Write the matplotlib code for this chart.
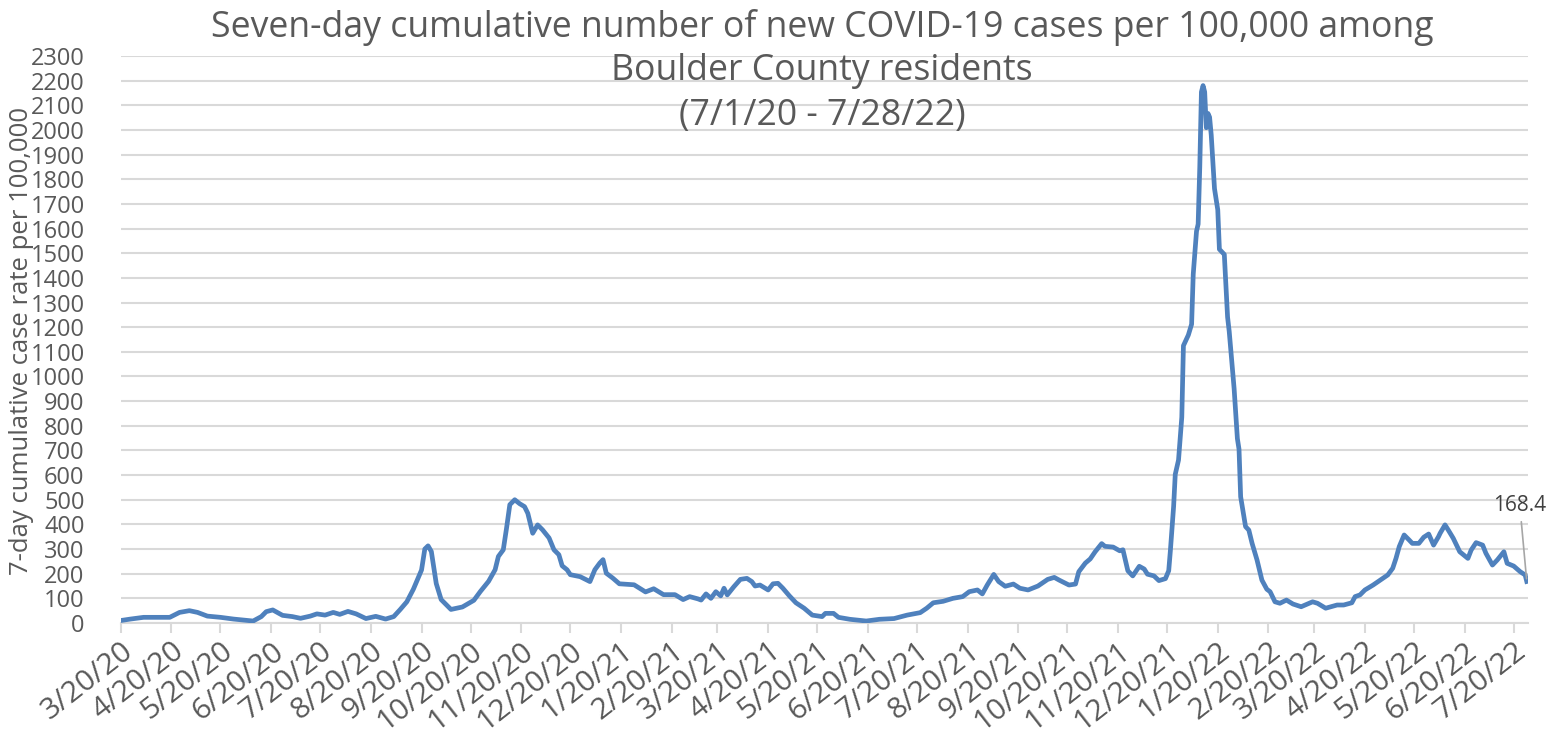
"""
Boulder County 7-day cumulative COVID-19 case rate per 100,000
"""
import matplotlib
matplotlib.use("Agg")
import matplotlib.pyplot as plt
import pandas as pd

# values (irregular sample dates)
dates = [
    "2020-03-20", "2020-03-26", "2020-04-03", "2020-04-11", "2020-04-19", "2020-04-25",
    "2020-05-01", "2020-05-06", "2020-05-12", "2020-05-20", "2020-05-28", "2020-06-03",
    "2020-06-09", "2020-06-14", "2020-06-17", "2020-06-21", "2020-06-24", "2020-06-27",
    "2020-07-03", "2020-07-08", "2020-07-14", "2020-07-18", "2020-07-23", "2020-07-28",
    "2020-08-01", "2020-08-06", "2020-08-11", "2020-08-17", "2020-08-23", "2020-08-29",
    "2020-09-03", "2020-09-07", "2020-09-11", "2020-09-15", "2020-09-20", "2020-09-22",
    "2020-09-24", "2020-09-26", "2020-09-29", "2020-10-02", "2020-10-08", "2020-10-15",
    "2020-10-22", "2020-10-26", "2020-10-31", "2020-11-04", "2020-11-06", "2020-11-09",
    "2020-11-11", "2020-11-13", "2020-11-16", "2020-11-19", "2020-11-22", "2020-11-24",
    "2020-11-27", "2020-11-30", "2020-12-03", "2020-12-07", "2020-12-10", "2020-12-13",
    "2020-12-15", "2020-12-18", "2020-12-20", "2020-12-26", "2021-01-01", "2021-01-04",
    "2021-01-07", "2021-01-09", "2021-01-11", "2021-01-15", "2021-01-19", "2021-01-28",
    "2021-02-04", "2021-02-09", "2021-02-15", "2021-02-22", "2021-02-27", "2021-03-03",
    "2021-03-08", "2021-03-10", "2021-03-13", "2021-03-16", "2021-03-19", "2021-03-22",
    "2021-03-24", "2021-03-26", "2021-03-30", "2021-04-03", "2021-04-07", "2021-04-10",
    "2021-04-12", "2021-04-15", "2021-04-20", "2021-04-23", "2021-04-26", "2021-04-29",
    "2021-05-03", "2021-05-07", "2021-05-12", "2021-05-17", "2021-05-23", "2021-05-25",
    "2021-05-30", "2021-06-02", "2021-06-09", "2021-06-19", "2021-06-27", "2021-07-06",
    "2021-07-14", "2021-07-22", "2021-07-26", "2021-07-30", "2021-08-05", "2021-08-11",
    "2021-08-17", "2021-08-21", "2021-08-26", "2021-08-29", "2021-09-01", "2021-09-05",
    "2021-09-08", "2021-09-12", "2021-09-17", "2021-09-21", "2021-09-26", "2021-10-02",
    "2021-10-08", "2021-10-12", "2021-10-15", "2021-10-21", "2021-10-25", "2021-10-27",
    "2021-10-31", "2021-11-03", "2021-11-06", "2021-11-10", "2021-11-12", "2021-11-17",
    "2021-11-21", "2021-11-23", "2021-11-26", "2021-11-29", "2021-12-03", "2021-12-06",
    "2021-12-08", "2021-12-12", "2021-12-15", "2021-12-19", "2021-12-21", "2021-12-22",
    "2021-12-24", "2021-12-25", "2021-12-27", "2021-12-29", "2021-12-30", "2022-01-01",
    "2022-01-02", "2022-01-04", "2022-01-05", "2022-01-07", "2022-01-08", "2022-01-09",
    "2022-01-10", "2022-01-11", "2022-01-12", "2022-01-13", "2022-01-14", "2022-01-15",
    "2022-01-16", "2022-01-18", "2022-01-20", "2022-01-21", "2022-01-24", "2022-01-26",
    "2022-01-27", "2022-01-30", "2022-02-01", "2022-02-02", "2022-02-03", "2022-02-06",
    "2022-02-08", "2022-02-10", "2022-02-13", "2022-02-16", "2022-02-19", "2022-02-21",
    "2022-02-24", "2022-02-27", "2022-03-03", "2022-03-07", "2022-03-12", "2022-03-19",
    "2022-03-22", "2022-03-27", "2022-04-03", "2022-04-07", "2022-04-12", "2022-04-14",
    "2022-04-17", "2022-04-20", "2022-04-25", "2022-04-30", "2022-05-04", "2022-05-07",
    "2022-05-09", "2022-05-11", "2022-05-14", "2022-05-17", "2022-05-19", "2022-05-23",
    "2022-05-26", "2022-05-29", "2022-06-01", "2022-06-04", "2022-06-05", "2022-06-08",
    "2022-06-10", "2022-06-13", "2022-06-17", "2022-06-22", "2022-06-24", "2022-06-27",
    "2022-07-01", "2022-07-03", "2022-07-07", "2022-07-10", "2022-07-14", "2022-07-16",
    "2022-07-20", "2022-07-24", "2022-07-27", "2022-07-28",
]
rates = [
    10, 16, 23, 23, 23, 43,
    50, 43, 28, 23, 16, 12,
    8, 26, 46, 53, 42, 31,
    26, 19, 28, 37, 32, 43,
    35, 47, 37, 18, 27, 16,
    26, 55, 86, 137, 215, 300,
    313, 290, 160, 95, 55, 65,
    92, 128, 169, 216, 270, 297,
    385, 480, 500, 484, 472, 445,
    364, 398, 378, 345, 297, 277,
    232, 216, 196, 188, 168, 216,
    243, 257, 202, 182, 159, 155,
    126, 139, 115, 115, 95, 107,
    98, 93, 118, 100, 127, 110,
    141, 114, 147, 177, 181, 168,
    150, 154, 134, 159, 161, 141,
    110, 82, 60, 32, 26, 39,
    39, 23, 15, 8, 15, 18,
    32, 42, 60, 82, 88, 100,
    107, 127, 134, 118, 154, 197,
    168, 149, 158, 141, 134, 150,
    177, 185, 174, 154, 158, 208,
    243, 260, 289, 322, 311, 308,
    293, 297, 212, 191, 230, 219,
    198, 191, 172, 180, 212, 292,
    473, 603, 661, 835, 1125, 1154,
    1168, 1212, 1415, 1589, 1618, 1850,
    2154, 2180, 2154, 2009, 2067, 2052,
    1980, 1762, 1676, 1516, 1495, 1241,
    1183, 951, 748, 705, 512, 391,
    377, 323, 256, 174, 137, 127,
    86, 80, 93, 77, 66, 86,
    80, 60, 73, 73, 82, 107,
    114, 134, 154, 177, 195, 222,
    262, 310, 357, 337, 323, 323,
    348, 361, 316, 350, 364, 398,
    377, 344, 289, 262, 296, 326,
    316, 283, 235, 256, 289, 242,
    231, 208, 195, 168.4,
]

tick_dates = pd.date_range("2020-03-01", "2022-07-01", freq="MS") + pd.Timedelta(days=19)
tick_labels = [f"{d.month}/{d.day}/{d.year % 100}" for d in tick_dates]
y_ticks = list(range(0, 2301, 100))

title_lines = ["Seven-day cumulative number of new COVID-19 cases per 100,000 among",
               "Boulder County residents",
               "(7/1/20 - 7/28/22)"]
y_label = "7-day cumulative case rate per 100,000"

TEXT = "#595959"
GRID = "#d9d9d9"
LINE = "#4f81bd"
W, H = 1551, 746

plt.rcParams["font.family"] = ["Open Sans", "DejaVu Sans"]

x = pd.to_datetime(dates)

fig = plt.figure(figsize=(W / 100, H / 100), dpi=100)
ax = fig.add_axes([120.7 / W, 123 / H, (1528 - 120.7) / W, (690 - 123) / H])

ax.plot(x, rates, color=LINE, lw=3.4, solid_joinstyle="round", zorder=3)

ax.set_ylim(0, 2300)
ax.set_xlim(x[0], x[-1] + pd.Timedelta(hours=18))
ax.set_yticks(y_ticks)
ax.set_xticks(tick_dates)
ax.set_xticklabels(tick_labels, rotation=38, ha="right", rotation_mode="anchor")
ax.tick_params(axis="y", length=0, labelsize=17, labelcolor=TEXT, pad=26)
ax.tick_params(axis="x", length=7, width=1.5, color=GRID, labelsize=21.5,
               labelcolor=TEXT, pad=3)
ax.grid(axis="y", color=GRID, lw=1.5)
ax.set_axisbelow(True)
for side in ("top", "right", "left"):
    ax.spines[side].set_visible(False)
ax.spines["bottom"].set_color(GRID)
ax.spines["bottom"].set_linewidth(1.5)

fig.text(22 / W, 1 - 341 / H, y_label, rotation=90, ha="center", va="center",
         fontsize=18.5, color=TEXT)

# last value callout
ax.annotate(f"{rates[-1]:g}", xy=(x[-1], rates[-1]), xytext=(-5, 47),
            textcoords="offset points", ha="center", va="bottom",
            fontsize=15, color="#404040",
            arrowprops=dict(arrowstyle="-", color="#a6a6a6", lw=1.2,
                            shrinkA=2, shrinkB=2))

for line, base in zip(title_lines, (37, 80, 125)):
    fig.text(822 / W, 1 - base / H, line, ha="center", va="baseline",
             fontsize=25.7, color=TEXT)

fig.savefig("out.png", dpi=100)
